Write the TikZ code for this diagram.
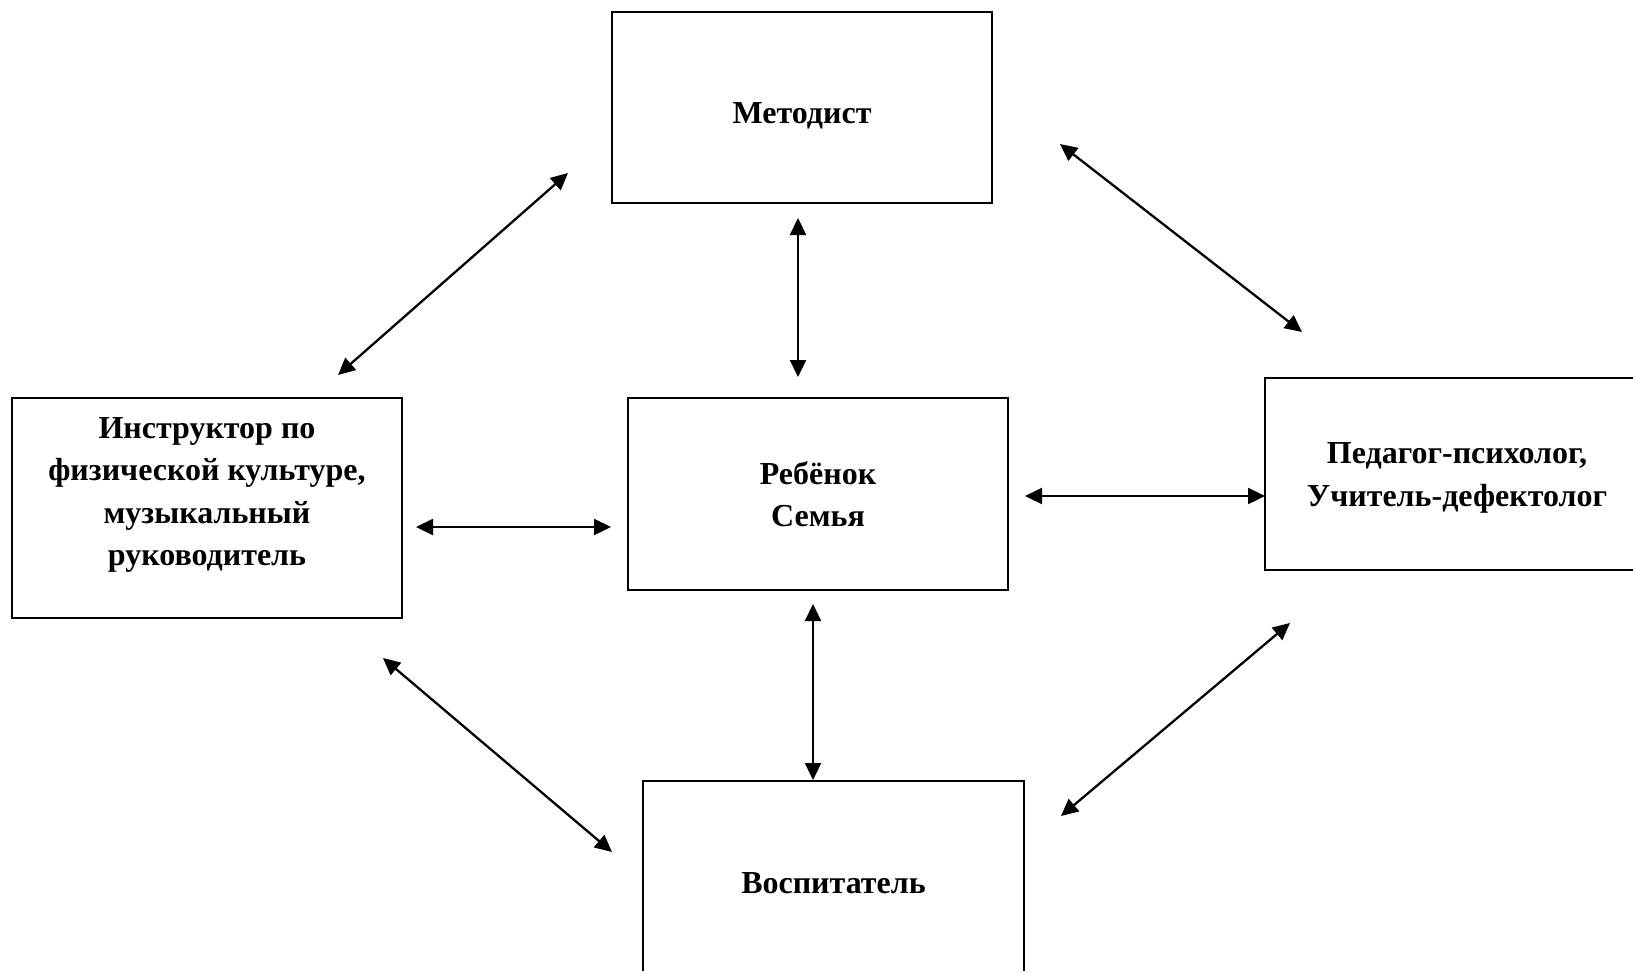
\documentclass[tikz,border=0pt]{standalone}
\usepackage{fontspec}
\setmainfont{Liberation Serif}
\usetikzlibrary{arrows.meta}
\tikzset{
  box/.style={draw=black, line width=1.6pt, rectangle, inner sep=0pt},
  txt/.style={align=center, inner sep=0pt, font=\fontsize{32}{42.5}\selectfont\bfseries},
  link/.style={line width=2.3pt, {Triangle[length=17pt,width=16pt]}-{Triangle[length=17pt,width=16pt]}}
}
\begin{document}
\begin{tikzpicture}[x=1pt,y=-1pt]
\clip (0,0) rectangle (1633,970);
\fill[white] (0,0) rectangle (1633,970);
% boxes
\node[box, minimum width=380, minimum height=191,
  label={[txt, yshift=-8.5pt]center:Методист}] (met) at (802,107.5) {};
\node[box, minimum width=380, minimum height=192,
  label={[txt, yshift=0pt]center:Ребёнок\\Семья}] (child) at (818,494) {};
\node[box, minimum width=390, minimum height=220,
  label={[txt, yshift=13pt]center:Инструктор по\\физической культуре,\\музыкальный\\руководитель}] (instr) at (207,508) {};
\node[box, minimum width=382, minimum height=192,
  label={[txt, xshift=1pt, yshift=-4pt]center:Педагог-психолог,\\Учитель-дефектолог}] (psy) at (1456,474) {};
\node[box, minimum width=381, minimum height=198,
  label={[txt, yshift=-3pt]center:Воспитатель}] (edu) at (833.5,880) {};
% arrow endpoints
\coordinate (a1) at (798,218);  \coordinate (a2) at (798,377);
\coordinate (b1) at (813,604);  \coordinate (b2) at (813,780);
\coordinate (c1) at (416,527);  \coordinate (c2) at (611,527);
\coordinate (d1) at (1025,496); \coordinate (d2) at (1265,496);
\coordinate (e1) at (338,375);  \coordinate (e2) at (568,173);
\coordinate (f1) at (1060,144); \coordinate (f2) at (1302,332);
\coordinate (g1) at (383,658);  \coordinate (g2) at (612,852);
\coordinate (h1) at (1290,623); \coordinate (h2) at (1061,816);
% connectors
\draw[link] (a1) -- (a2);
\draw[link] (b1) -- (b2);
\draw[link] (c1) -- (c2);
\draw[link] (d1) -- (d2);
\draw[link] (e1) -- (e2);
\draw[link] (f1) -- (f2);
\draw[link] (g1) -- (g2);
\draw[link] (h1) -- (h2);
\end{tikzpicture}
\end{document}
